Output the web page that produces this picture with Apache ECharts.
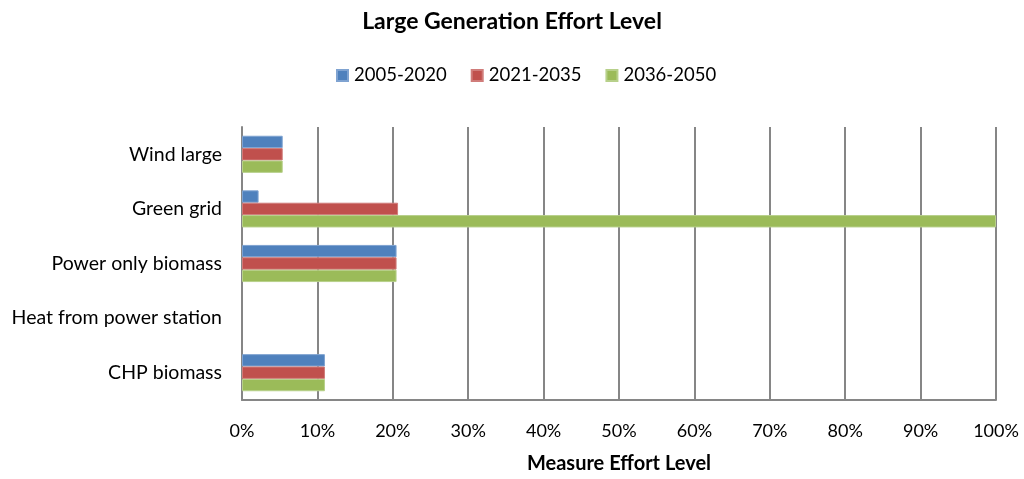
<!DOCTYPE html>
<html>
<head>
<meta charset="utf-8">
<script src="https://cdn.jsdelivr.net/npm/echarts@6/dist/echarts.min.js"></script>
<style>
  html, body { margin: 0; padding: 0; background: #fff; }
  #chart { width: 1024px; height: 479px; }
</style>
</head>
<body>
<div id="chart"></div>
<script>
// Measures, listed top to bottom
const categories = ['Wind large', 'Green grid', 'Power only biomass', 'Heat from power station', 'CHP biomass'];
const seriesNames = ['2005-2020', '2021-2035', '2036-2050'];
// Effort level (%) per period
const period1 = [5.4, 2.2, 20.5, 0, 11];
const period2 = [5.4, 20.7, 20.5, 0, 11];
const period3 = [5.4, 100, 20.5, 0, 11];
const xTicks = [0, 10, 20, 30, 40, 50, 60, 70, 80, 90, 100];

const colors = ['#4F81BD', '#C0504D', '#9BBB59'];
const borders = ['#7FA3D1', '#D07C7A', '#B7D08A'];
const font = 'Lato, "Open Sans", sans-serif';

const chart = echarts.init(document.getElementById('chart'));
const values = [period1, period2, period3];

chart.setOption({
  animation: false,
  textStyle: { fontFamily: font },
  title: {
    text: 'Large Generation Effort Level',
    left: 'center',
    top: 5,
    textStyle: { fontFamily: font, fontSize: 23, fontWeight: 'bold', color: '#000' }
  },
  legend: {
    top: 61,
    left: 331,
    itemWidth: 11,
    itemHeight: 11,
    itemGap: 24,
    icon: 'rect',
    textStyle: { fontFamily: font, fontSize: 18.5, color: '#000', padding: [0, 0, 0, 1] },
    data: seriesNames
  },
  grid: { left: 242, right: 28, top: 127, bottom: 73, containLabel: false },
  xAxis: {
    type: 'value',
    min: xTicks[0],
    max: xTicks[xTicks.length - 1],
    interval: 10,
    name: 'Measure Effort Level',
    nameLocation: 'middle',
    nameGap: 54,
    nameTextStyle: { fontFamily: font, fontSize: 20, fontWeight: 'bold', color: '#000' },
    axisLine: { show: true, lineStyle: { color: '#868686', width: 2 } },
    axisTick: { show: false },
    axisLabel: { formatter: '{value}%', fontFamily: font, fontSize: 18, color: '#000', margin: 22 },
    splitLine: { show: true, lineStyle: { color: '#868686', width: 2 } }
  },
  yAxis: {
    type: 'category',
    inverse: true,
    data: categories,
    axisLine: { show: true, lineStyle: { color: '#868686', width: 2 } },
    axisTick: { show: false },
    axisLabel: { fontFamily: font, fontSize: 19.5, color: '#000', margin: 20 }
  },
  series: seriesNames.map((name, i) => ({
    name: name,
    type: 'bar',
    data: values[i].map(v => v === 0 ? { value: v, itemStyle: { borderWidth: 0 } } : v),
    barGap: '0%',
    barCategoryGap: '32%',
    itemStyle: { color: colors[i], borderColor: borders[i], borderWidth: 1 },
    emphasis: { disabled: true }
  }))
});
</script>
</body>
</html>
